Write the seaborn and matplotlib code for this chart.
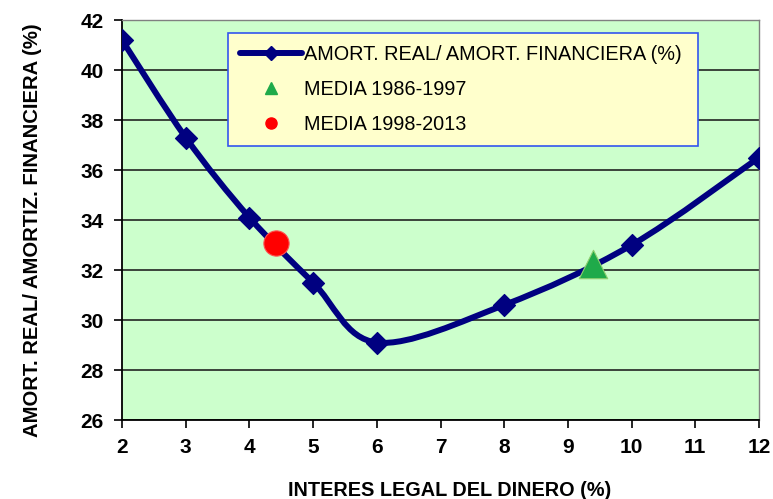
import matplotlib
matplotlib.use("Agg")
import matplotlib.pyplot as plt
from matplotlib.path import Path
from matplotlib.patches import PathPatch
from matplotlib.lines import Line2D
import numpy as np
import pandas as pd
import seaborn as sns

# ---- data ----
interes = [2, 3, 4, 5, 6, 8, 10, 12]
ratio = [41.2, 37.3, 34.1, 31.5, 29.1, 30.6, 33.0, 36.5]
media_8697_x = [9.4]
media_8697_y = [32.25]
media_9813_x = [4.42]
media_9813_y = [33.1]
yticks = [26, 28, 30, 32, 34, 36, 38, 40, 42]
xticks = [2, 3, 4, 5, 6, 7, 8, 9, 10, 11, 12]
label_line = "AMORT. REAL/ AMORT. FINANCIERA (%)"
label_8697 = "MEDIA 1986-1997"
label_9813 = "MEDIA 1998-2013"
xlabel = "INTERES LEGAL DEL DINERO (%)"
ylabel = "AMORT. REAL/ AMORTIZ. FINANCIERA (%)"

sns.set_theme(style="white")
plt.rcParams['font.family'] = ['Liberation Sans', 'DejaVu Sans']
plt.rcParams['text.color'] = 'black'
plt.rcParams['axes.labelcolor'] = 'black'
plt.rcParams['xtick.color'] = 'black'
plt.rcParams['ytick.color'] = 'black'

fig = plt.figure(figsize=(7.73, 4.99), dpi=100)
ax = fig.add_axes([122/773, 79/499, 637/773, 400/499])
ax.set_facecolor("#CCFFCC")

NAVY = "#000080"

# smoothed line (Excel-like Catmull-Rom Bezier) built from data
pts = np.column_stack([interes, ratio]).astype(float)
ext = np.vstack([pts[0], pts, pts[-1]])
verts = [tuple(pts[0])]
codes = [Path.MOVETO]
for i in range(1, len(ext) - 2):
    p0, p1, p2, p3 = ext[i-1], ext[i], ext[i+1], ext[i+2]
    c1 = p1 + (p2 - p0) / 6.0
    c2 = p2 - (p3 - p1) / 6.0
    verts += [tuple(c1), tuple(c2), tuple(p2)]
    codes += [Path.CURVE4] * 3
patch = PathPatch(Path(verts, codes), facecolor="none", edgecolor=NAVY,
                  lw=4.3, capstyle="round", joinstyle="round", zorder=3)
ax.add_patch(patch)

df = pd.DataFrame({"x": interes, "y": ratio})
sns.scatterplot(data=df, x="x", y="y", marker="D", s=125, color=NAVY,
                edgecolor=NAVY, ax=ax, zorder=4, legend=False)
sns.scatterplot(x=media_9813_x, y=media_9813_y, marker="o", s=330,
                color="#FF0000", edgecolor="#FF5050", linewidth=0.8,
                ax=ax, zorder=5, legend=False)
sns.scatterplot(x=media_8697_x, y=media_8697_y, marker="^", s=420,
                color="#1FAA4A", edgecolor="#8FCF6F", linewidth=0.8,
                ax=ax, zorder=5, legend=False)

ax.set_xlim(2, 12)
ax.set_ylim(26, 42)
ax.set_xticks(xticks)
ax.set_yticks(yticks)
ax.set_xticklabels([str(v) for v in xticks], fontsize=15, fontweight="bold")
ax.set_yticklabels([str(v) for v in yticks], fontsize=15, fontweight="bold")
ax.yaxis.grid(True, color="#222222", lw=1.2)
ax.xaxis.grid(False)
ax.tick_params(axis="both", direction="out", length=6, width=1.2,
               color="black", pad=7, left=True, bottom=True)
ax.set_axisbelow(True)
for s in ["left", "bottom"]:
    ax.spines[s].set_color("black")
    ax.spines[s].set_linewidth(1.3)
for s in ["top", "right"]:
    ax.spines[s].set_color("#808080")
    ax.spines[s].set_linewidth(1.0)

ax.set_xlabel(xlabel, fontsize=14.3, fontweight="bold", labelpad=17)
ax.set_ylabel(ylabel, fontsize=14.6, fontweight="bold", labelpad=28)
ax.xaxis.label.set_x(0.514)
ax.yaxis.label.set_y(0.475)

handles = [
    Line2D([], [], color=NAVY, lw=4.3, marker="D", markersize=7),
    Line2D([], [], color="#1FAA4A", lw=0, marker="^", markersize=8),
    Line2D([], [], color="#FF0000", lw=0, marker="o", markersize=8),
]
leg = ax.legend(handles, [label_line, label_8697, label_9813],
                loc="upper left", bbox_to_anchor=(0.166, 0.6925, 0.738, 0.275),
                mode="expand", fontsize=14.3, frameon=True, fancybox=False,
                labelspacing=0.8, handlelength=3.1, handletextpad=0.1,
                borderpad=0.62, borderaxespad=0)
leg.get_frame().set_facecolor("#FFFFCC")
leg.get_frame().set_edgecolor("#3355EE")
leg.get_frame().set_linewidth(1.2)
leg.get_frame().set_alpha(1)
leg.set_zorder(6)

fig.savefig("out.png", dpi=100, facecolor="white")
